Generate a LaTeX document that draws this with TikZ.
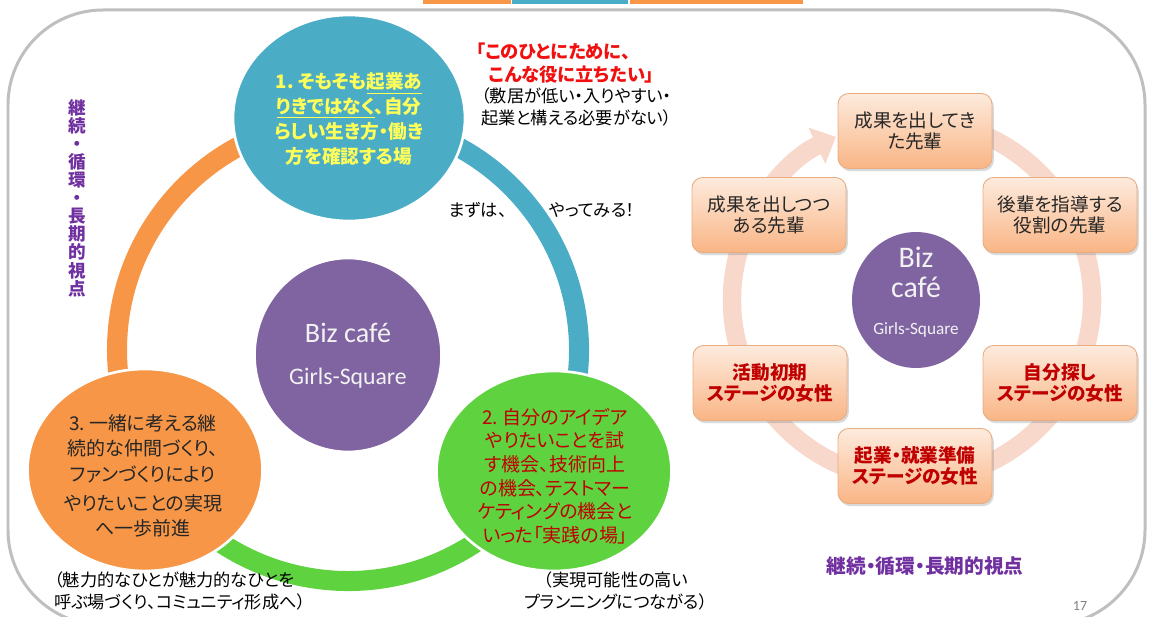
\documentclass[tikz,border=0pt]{standalone}
\usepackage{fontspec}
\setmainfont{Carlito}
\newfontfamily\jp[RawFeature=+palt]{Noto Sans CJK JP}
\usetikzlibrary{shapes.geometric,arrows.meta,shadows,positioning}

\definecolor{cBlue}{HTML}{4BACC6}
\definecolor{cOrange}{HTML}{F79646}
\definecolor{cGreen}{HTML}{5ED33F}
\definecolor{cPurple}{HTML}{8064A2}
\definecolor{cYellow}{HTML}{FFFF59}
\definecolor{cDarkRed}{HTML}{C00000}
\definecolor{cRed}{HTML}{F01010}
\definecolor{cViolet}{HTML}{7030A0}
\definecolor{cPeach}{HTML}{F8D8CB}
\definecolor{cBoxTop}{HTML}{FDEBDD}
\definecolor{cBoxBot}{HTML}{F9B585}
\definecolor{cBoxLine}{HTML}{E8AC82}
\definecolor{cBorder}{HTML}{BFBFBF}
\definecolor{cInk}{HTML}{262626}

\begin{document}
\begin{tikzpicture}[x=0.02cm, y=0.02cm,
    bubble/.style={ellipse, draw=white, line width=1.5pt, inner sep=0pt},
    band/.style={line width=11.4pt},
    stage/.style={rounded corners=6pt, draw=cBoxLine, line width=0.5pt,
        top color=cBoxTop, bottom color=cBoxBot,
        minimum width=3.08cm, minimum height=1.5cm, align=center, text=cInk,
        drop shadow={shadow xshift=1pt, shadow yshift=-1.5pt, opacity=0.3},
        font=\jp\fontsize{10.6}{12}\selectfont},
    redstage/.style={stage, text=cDarkRed, font=\jp\bfseries\fontsize{10.6}{12}\selectfont},
    note/.style={inner sep=0pt, align=left, text=black, font=\jp\fontsize{9.8}{12.5}\selectfont},
    inbubble/.style={inner sep=0pt, align=center, font=\jp\fontsize{10.6}{14.2}\selectfont},
  ]
  \useasboundingbox (0,0) rectangle (1149,-617);

  % frame and top bar
  \draw[cBorder, line width=1.7pt, rounded corners=1.9cm] (8,-10) rectangle (1145,-625);
  \fill[cOrange] (423,0) rectangle (511,-4);
  \fill[cBlue] (512,0) rectangle (628,-4);
  \fill[cOrange] (630,0) rectangle (803,-4);

  % left cycle
  \coordinate (lc) at (348,-350);
  \draw[band, cOrange] (lc) ++(90:231) arc[start angle=90, end angle=210, radius=231];
  \draw[band, cGreen] (lc) ++(210:231) arc[start angle=210, end angle=330, radius=231];
  \draw[band, cBlue] (lc) ++(-30:231) arc[start angle=-30, end angle=90, radius=231];

  \node[bubble, fill=cBlue, minimum width=4.64cm, minimum height=4.12cm] (idea) at (349,-118) {};
  \node[bubble, fill=cOrange, minimum width=4.7cm, minimum height=4.04cm] (fellow) at (145,-470) {};
  \node[bubble, fill=cGreen, minimum width=4.7cm, minimum height=4.0cm] (trial) at (554,-471) {};
  \node[bubble, fill=cPurple, minimum width=3.74cm, minimum height=3.88cm] (core) at (348,-355) {};

  \node[inbubble, text=cYellow, font=\jp\bfseries\fontsize{10.6}{14.2}\selectfont] (ideatext) at (349,-119)
    {1.\ そもそも\underline{起業あ}\\\underline{りきではなく}、自分\\らしい生き方・働き\\方を確認する場};
  \node[inbubble, text=cInk, font=\jp\fontsize{10.8}{14.5}\selectfont] (fellowtext) at (143,-476)
    {3.\ 一緒に考える継\\続的な仲間づくり、\\ファンづくりにより\\[2pt]やりたいことの実現\\へ一歩前進};
  \node[inbubble, text=cDarkRed, font=\jp\fontsize{10.8}{13.4}\selectfont] (trialtext) at (555,-476)
    {2.\ 自分のアイデア\\やりたいことを試\\す機会、技術向上\\の機会、テストマー\\ケティングの機会と\\いった「実践の場」};
  \node[inbubble, text=white!95!black, font=\fontsize{16}{19}\selectfont] (coretext) at (348,-356)
    {Biz café\\[5pt]{\fontsize{13.5}{16}\selectfont Girls-Square}};

  % notes around the left cycle
  \node[note, anchor=west, text=cRed, font=\jp\bfseries\fontsize{10.4}{13}\selectfont] (wish) at (476,-63)
    {「このひとにために、\\\hspace{0.7em}こんな役に立ちたい」};
  \node[note, anchor=west] (easy) at (481,-107)
    {（敷居が低い・入りやすい・\\起業と構える必要がない）};
  \node[note] (first) at (478,-210) {まずは、};
  \node[note] (tryit) at (592,-210) {やってみる！};
  \node[note, anchor=west] (attract) at (54,-591)
    {（魅力的なひとが魅力的なひとを\\呼ぶ場づくり、コミュニティ形成へ）};
  \node[note, align=center] (plan) at (616,-591)
    {（実現可能性の高い\\プランニングにつながる）};
  \node[inner sep=0pt, align=center, text=cViolet, font=\jp\bfseries\fontsize{10}{10.3}\selectfont] (vlabel) at (77,-198)
    {継\\続\\・\\循\\環\\・\\長\\期\\的\\視\\点};

  % right cycle
  \coordinate (rc) at (912,-300);
  \draw[band, cPeach, line width=10.5pt, -{Triangle[width=22pt, length=12pt]}]
    (rc) ++(75:180) arc[start angle=75, end angle=-245, radius=180];

  \node[stage] (past) at (915,-131) {成果を出してき\\た先輩};
  \node[stage] (mentor) at (1060,-215) {後輩を指導する\\役割の先輩};
  \node[redstage] (explore) at (1060,-383) {自分探し\\ステージの女性};
  \node[redstage] (prepare) at (915,-466) {起業・就業準備\\ステージの女性};
  \node[redstage] (early) at (770,-383) {活動初期\\ステージの女性};
  \node[stage] (rising) at (769,-215) {成果を出しつつ\\ある先輩};

  \node[bubble, draw=none, fill=cPurple, minimum width=2.56cm, minimum height=2.72cm] (core2) at (916,-300) {};
  \node[inbubble, text=white!95!black, font=\fontsize{17}{17}\selectfont] (core2text) at (916,-292)
    {Biz\\café\\[4pt]{\fontsize{9.8}{12}\selectfont Girls-Square}};

  \node[inner sep=0pt, text=cViolet, font=\jp\bfseries\fontsize{11.2}{12}\selectfont] (hlabel) at (925,-566)
    {継続・循環・長期的視点};
  \node[inner sep=0pt, text=gray, font=\fontsize{8}{10}\selectfont] (pageno) at (1080,-606) {17};
\end{tikzpicture}
\end{document}
